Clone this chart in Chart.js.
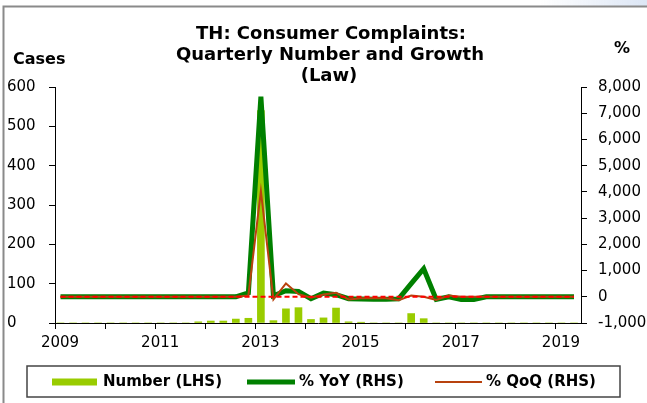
<!DOCTYPE html>
<html>
<head>
<meta charset="utf-8">
<title>TH: Consumer Complaints (Law)</title>
<script src="https://cdn.jsdelivr.net/npm/chart.js@4.4.1/dist/chart.umd.min.js"></script>
<style>
    html, body { margin: 0; padding: 0; background: #fff; }
    #chartWrap { width: 647px; height: 403px; }
</style>
</head>
<body>
<div id="chartWrap"><canvas id="complaintsChart" width="647" height="403"></canvas></div>
<script>
// Quarterly data, 2009Q1 - 2019Q2
const quarters = [
    '2009Q1', '2009Q2', '2009Q3', '2009Q4',
    '2010Q1', '2010Q2', '2010Q3', '2010Q4',
    '2011Q1', '2011Q2', '2011Q3', '2011Q4',
    '2012Q1', '2012Q2', '2012Q3', '2012Q4',
    '2013Q1', '2013Q2', '2013Q3', '2013Q4',
    '2014Q1', '2014Q2', '2014Q3', '2014Q4',
    '2015Q1', '2015Q2', '2015Q3', '2015Q4',
    '2016Q1', '2016Q2', '2016Q3', '2016Q4',
    '2017Q1', '2017Q2', '2017Q3', '2017Q4',
    '2018Q1', '2018Q2', '2018Q3', '2018Q4',
    '2019Q1', '2019Q2'
];

// Number of cases (LHS)
const numberCases = [
    0, 0, 0, 0,
    0, 0, 0, 0,
    0, 0, 0, 3,
    5, 5, 10, 12,
    540, 6, 36, 39,
    9, 13, 38, 3,
    2, 0, 0, 0,
    24, 11, 0, 0,
    0, 0, 0, 0,
    0, 0, 0, 0,
    0, 0
];

// % YoY (RHS)
const yoyGrowth = [
    0, 0, 0, 0,
    0, 0, 0, 0,
    0, 0, 0, 0,
    0, 0, 0, 150,
    7630, 40, 230, 200,
    -75, 140, 80, -75,
    -80, -90, -90, -80,
    500, 1070, -100, 0,
    -100, -100, 0, 0,
    0, 0, 0, 0,
    0, 0
];

// % QoQ (RHS)
const qoqGrowth = [
    0, 0, 0, 0,
    0, 0, 0, 0,
    0, 0, 0, 0,
    0, 0, 0, 50,
    4030, -100, 510, 100,
    -40, 90, 150, -100,
    -60, -50, -60, -130,
    50, 0, -120, 50,
    0, 0, 0, 0,
    0, 0, 0, 0,
    0, 0
];

const yearLabels = [2009, 2011, 2013, 2015, 2017, 2019];
const casesAxis = { min: 0, max: 600, step: 100 };
const pctAxis = { min: -1000, max: 8000, step: 1000 };
const zeroLevel = 0;

const FONT = "'DejaVu Sans', 'Liberation Sans', Arial, sans-serif";

// quarter label -> decimal year (points sit a little into each quarter)
function quarterPos(label) {
    const year = parseInt(label.slice(0, 4), 10);
    const q = parseInt(label.slice(5), 10);
    return year + (q - 1) / 4 + 0.11;
}

function toPoints(values) {
    return values.map((v, i) => ({ x: quarterPos(quarters[i]), y: v }));
}

const zeroPoints = [
    { x: quarterPos(quarters[0]), y: zeroLevel },
    { x: quarterPos(quarters[quarters.length - 1]), y: zeroLevel }
];

// Title, axis units, frame and boxed legend
const decorations = {
    id: 'decorations',
    beforeDraw(chart) {
        // faint blue tint in the top right corner
        const ctx = chart.ctx;
        const grad = ctx.createLinearGradient(540, 0, 647, 0);
        grad.addColorStop(0, 'rgba(220,230,245,0)');
        grad.addColorStop(1, 'rgba(220,230,245,1)');
        ctx.save();
        ctx.fillStyle = grad;
        ctx.fillRect(540, 0, 107, 6);
        ctx.restore();
    },
    afterDraw(chart) {
        const ctx = chart.ctx;
        ctx.save();

        // outer frame
        ctx.strokeStyle = '#8a8a8a';
        ctx.lineWidth = 2;
        ctx.beginPath();
        ctx.moveTo(3.5, 420);
        ctx.lineTo(3.5, 6.5);
        ctx.lineTo(660, 6.5);
        ctx.stroke();

        // title
        ctx.fillStyle = '#000';
        ctx.textAlign = 'center';
        ctx.textBaseline = 'alphabetic';
        ctx.font = 'bold 18px ' + FONT;
        ctx.fillText('TH: Consumer Complaints:', 331, 39);
        ctx.fillText('Quarterly Number and Growth', 330, 60);
        ctx.fillText('(Law)', 329, 81);

        // axis units
        ctx.font = 'bold 16px ' + FONT;
        ctx.textAlign = 'left';
        ctx.fillText('Cases', 13, 64);
        ctx.textAlign = 'center';
        ctx.fillText('%', 622, 53);

        // legend box
        ctx.strokeStyle = '#444';
        ctx.lineWidth = 1.5;
        ctx.strokeRect(27, 366, 593, 31);

        const ds = chart.data.datasets;
        const midY = 382;
        ctx.font = 'bold 15px ' + FONT;
        ctx.textAlign = 'left';
        ctx.textBaseline = 'middle';

        // Number (LHS)
        ctx.fillStyle = ds[0].backgroundColor;
        ctx.fillRect(52, midY - 3.5, 45, 7);
        ctx.fillStyle = '#000';
        ctx.fillText(ds[0].label, 103, midY);

        // % YoY (RHS)
        ctx.strokeStyle = ds[1].borderColor;
        ctx.lineWidth = ds[1].borderWidth;
        ctx.beginPath();
        ctx.moveTo(247, midY);
        ctx.lineTo(295, midY);
        ctx.stroke();
        ctx.fillText(ds[1].label, 299, midY);

        // % QoQ (RHS)
        ctx.strokeStyle = ds[2].borderColor;
        ctx.lineWidth = ds[2].borderWidth;
        ctx.beginPath();
        ctx.moveTo(435, midY);
        ctx.lineTo(482, midY);
        ctx.stroke();
        ctx.fillText(ds[2].label, 486, midY);

        ctx.restore();
    }
};

const ctx = document.getElementById('complaintsChart');

new Chart(ctx, {
    type: 'bar',
    data: {
        datasets: [
            {
                type: 'bar',
                label: 'Number (LHS)',
                data: toPoints(numberCases),
                backgroundColor: '#99CC00',
                borderWidth: 0,
                barThickness: 7,
                yAxisID: 'y',
                order: 4
            },
            {
                type: 'line',
                label: '% YoY (RHS)',
                data: toPoints(yoyGrowth),
                borderColor: '#008000',
                borderWidth: 5,
                pointRadius: 0,
                tension: 0,
                fill: false,
                yAxisID: 'y1',
                order: 3
            },
            {
                type: 'line',
                label: '% QoQ (RHS)',
                data: toPoints(qoqGrowth),
                borderColor: '#B8420E',
                borderWidth: 2,
                pointRadius: 0,
                tension: 0,
                fill: false,
                yAxisID: 'y1',
                order: 2
            },
            {
                type: 'line',
                label: 'zero',
                data: zeroPoints,
                borderColor: '#FF0000',
                borderWidth: 2,
                borderDash: [5, 3],
                pointRadius: 0,
                fill: false,
                yAxisID: 'y1',
                order: 1
            }
        ]
    },
    options: {
        responsive: false,
        animation: false,
        devicePixelRatio: 1,
        layout: {
            padding: { left: 7, top: 87, right: 0, bottom: 0 }
        },
        plugins: {
            legend: { display: false },
            title: { display: false },
            tooltip: { enabled: false }
        },
        scales: {
            x: {
                type: 'linear',
                min: 2009,
                max: 2019.5,
                offset: false,
                grid: {
                    offset: false,
                    drawOnChartArea: false,
                    drawTicks: true,
                    tickLength: 6,
                    tickColor: '#000'
                },
                border: { color: '#000', width: 1 },
                ticks: {
                    stepSize: 1,
                    includeBounds: false,
                    autoSkip: false,
                    maxRotation: 0,
                    padding: 5,
                    labelOffset: 5,
                    color: '#000',
                    font: { family: FONT, size: 15 },
                    callback: value => yearLabels.includes(value) ? String(value) : ''
                },
                afterFit: scale => { scale.height = 80; }
            },
            y: {
                position: 'left',
                min: casesAxis.min,
                max: casesAxis.max,
                grid: {
                    drawOnChartArea: false,
                    tickLength: 6,
                    tickColor: '#000'
                },
                border: { color: '#000', width: 1 },
                ticks: {
                    stepSize: casesAxis.step,
                    crossAlign: 'far',
                    color: '#000',
                    font: { family: FONT, size: 15 }
                },
                afterFit: scale => { scale.width = 48; }
            },
            y1: {
                position: 'right',
                min: pctAxis.min,
                max: pctAxis.max,
                grid: {
                    drawOnChartArea: false,
                    tickLength: 6,
                    tickColor: '#000'
                },
                border: { color: '#000', width: 1 },
                ticks: {
                    stepSize: pctAxis.step,
                    padding: 11,
                    color: '#000',
                    font: { family: FONT, size: 15 },
                    callback: value => value.toLocaleString('en-US')
                },
                afterFit: scale => { scale.width = 66; }
            }
        }
    },
    plugins: [decorations]
});
</script>
</body>
</html>
